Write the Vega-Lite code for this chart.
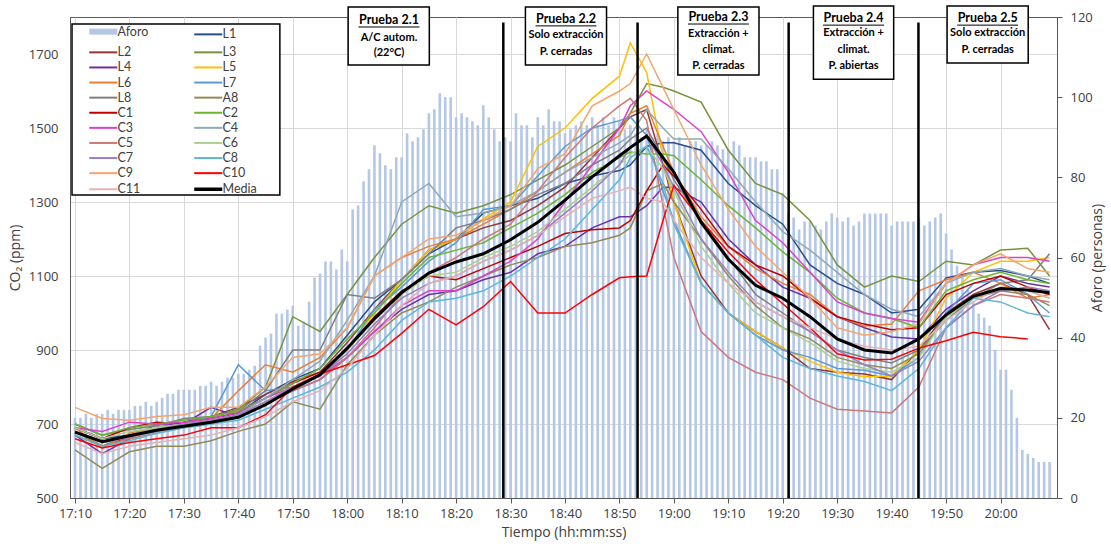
{
  "$schema": "https://vega.github.io/schema/vega-lite/v6.json",
  "width": 987,
  "height": 481,
  "autosize": {"type": "none"},
  "padding": {"left": 70, "top": 17, "right": 54, "bottom": 50},
  "background": "white",
  "config": {
    "view": {"stroke": "#595959", "strokeWidth": 1},
    "font": "Open Sans",
    "axis": {"labelFont": "Open Sans", "titleFont": "Open Sans", "labelColor": "#404040", "titleColor": "#404040", "labelFontSize": 13, "titleFontSize": 14, "titleFontWeight": "normal", "gridColor": "#D9D9D9", "domainColor": "#595959", "tickColor": "#595959"}
  },
  "layer": [
    {
      "data": {"values": [
        {"min":0,"aforo":20},{"min":1,"aforo":20},{"min":2,"aforo":21},{"min":3,"aforo":20},{"min":4,"aforo":21},{"min":5,"aforo":21},{"min":6,"aforo":22},{"min":7,"aforo":21},{"min":8,"aforo":22},{"min":9,"aforo":22},
        {"min":10,"aforo":22},{"min":11,"aforo":23},{"min":12,"aforo":23},{"min":13,"aforo":24},{"min":14,"aforo":23},{"min":15,"aforo":24},{"min":16,"aforo":25},{"min":17,"aforo":26},{"min":18,"aforo":26},{"min":19,"aforo":27},
        {"min":20,"aforo":27},{"min":21,"aforo":27},{"min":22,"aforo":27},{"min":23,"aforo":28},{"min":24,"aforo":28},{"min":25,"aforo":29},{"min":26,"aforo":28},{"min":27,"aforo":29},{"min":28,"aforo":30},{"min":29,"aforo":30},
        {"min":30,"aforo":31},{"min":31,"aforo":31},{"min":32,"aforo":32},{"min":33,"aforo":33},{"min":34,"aforo":38},{"min":35,"aforo":40},{"min":36,"aforo":41},{"min":37,"aforo":46},{"min":38,"aforo":46},{"min":39,"aforo":47},
        {"min":40,"aforo":48},{"min":41,"aforo":43},{"min":42,"aforo":44},{"min":43,"aforo":49},{"min":44,"aforo":55},{"min":45,"aforo":56},{"min":46,"aforo":59},{"min":47,"aforo":59},{"min":48,"aforo":57},{"min":49,"aforo":62},
        {"min":50,"aforo":59},{"min":51,"aforo":72},{"min":52,"aforo":73},{"min":53,"aforo":79},{"min":54,"aforo":82},{"min":55,"aforo":88},{"min":56,"aforo":86},{"min":57,"aforo":83},{"min":58,"aforo":82},{"min":59,"aforo":85},
        {"min":60,"aforo":85},{"min":61,"aforo":91},{"min":62,"aforo":89},{"min":63,"aforo":90},{"min":64,"aforo":92},{"min":65,"aforo":96},{"min":66,"aforo":97},{"min":67,"aforo":101},{"min":68,"aforo":100},{"min":69,"aforo":100},
        {"min":70,"aforo":95},{"min":71,"aforo":96},{"min":72,"aforo":95},{"min":73,"aforo":94},{"min":74,"aforo":93},{"min":75,"aforo":98},{"min":76,"aforo":95},{"min":77,"aforo":92},{"min":78,"aforo":89},{"min":79,"aforo":90},
        {"min":80,"aforo":89},{"min":81,"aforo":96},{"min":82,"aforo":93},{"min":83,"aforo":93},{"min":84,"aforo":90},{"min":85,"aforo":95},{"min":86,"aforo":93},{"min":87,"aforo":97},{"min":88,"aforo":94},{"min":89,"aforo":94},
        {"min":90,"aforo":91},{"min":91,"aforo":92},{"min":92,"aforo":93},{"min":93,"aforo":94},{"min":94,"aforo":93},{"min":95,"aforo":95},{"min":96,"aforo":93},{"min":97,"aforo":95},{"min":98,"aforo":93},{"min":99,"aforo":95},
        {"min":100,"aforo":94},{"min":101,"aforo":92},{"min":102,"aforo":93},{"min":103,"aforo":91},{"min":104,"aforo":90},{"min":105,"aforo":92},{"min":106,"aforo":90},{"min":107,"aforo":91},{"min":108,"aforo":89},{"min":109,"aforo":90},
        {"min":110,"aforo":89},{"min":111,"aforo":90},{"min":112,"aforo":88},{"min":113,"aforo":89},{"min":114,"aforo":89},{"min":115,"aforo":88},{"min":116,"aforo":88},{"min":117,"aforo":89},{"min":118,"aforo":88},{"min":119,"aforo":87},
        {"min":120,"aforo":87},{"min":121,"aforo":89},{"min":122,"aforo":88},{"min":123,"aforo":85},{"min":124,"aforo":85},{"min":125,"aforo":85},{"min":126,"aforo":84},{"min":127,"aforo":84},{"min":128,"aforo":82},{"min":129,"aforo":82},
        {"min":130,"aforo":76},{"min":131,"aforo":71},{"min":132,"aforo":70},{"min":133,"aforo":67},{"min":134,"aforo":69},{"min":135,"aforo":69},{"min":136,"aforo":68},{"min":137,"aforo":67},{"min":138,"aforo":69},{"min":139,"aforo":71},
        {"min":140,"aforo":70},{"min":141,"aforo":69},{"min":142,"aforo":70},{"min":143,"aforo":68},{"min":144,"aforo":69},{"min":145,"aforo":71},{"min":146,"aforo":71},{"min":147,"aforo":71},{"min":148,"aforo":71},{"min":149,"aforo":71},
        {"min":150,"aforo":68},{"min":151,"aforo":69},{"min":152,"aforo":69},{"min":153,"aforo":69},{"min":154,"aforo":69},{"min":155,"aforo":70},{"min":156,"aforo":68},{"min":157,"aforo":69},{"min":158,"aforo":70},{"min":159,"aforo":71},
        {"min":160,"aforo":66},{"min":161,"aforo":62},{"min":162,"aforo":58},{"min":163,"aforo":55},{"min":164,"aforo":52},{"min":165,"aforo":49},{"min":166,"aforo":46},{"min":167,"aforo":45},{"min":168,"aforo":43},{"min":169,"aforo":37},
        {"min":170,"aforo":32},{"min":171,"aforo":32},{"min":172,"aforo":27},{"min":173,"aforo":20},{"min":174,"aforo":12},{"min":175,"aforo":11},{"min":176,"aforo":10},{"min":177,"aforo":9},{"min":178,"aforo":9},{"min":179,"aforo":9}
      ]},
      "mark": {"type": "bar", "size": 2.6},
      "encoding": {
        "x": {"field": "min", "type": "quantitative",
              "scale": {"domain": [0, 179.45], "nice": false, "zero": false},
              "axis": {"values": [0,10,20,30,40,50,60,70,80,90,100,110,120,130,140,150,160,170], "labelExpr": "floor((1030 + datum.value) / 60) + ':' + ((1030 + datum.value) % 60 < 10 ? '0' : '') + ((1030 + datum.value) % 60)", "grid": true, "tickSize": 5, "labelPadding": 4, "labelFlush": false, "title": "Tiempo (hh:mm:ss)", "titlePadding": 5}},
        "y": {"field": "aforo", "type": "quantitative", "scale": {"domain": [0, 120], "nice": false},
              "axis": {"orient": "right", "values": [0,20,40,60,80,100,120], "grid": false, "tickSize": 5, "labelPadding": 8, "title": "Aforo (personas)", "titleAngle": 270, "titlePadding": 12}},
        "color": {"datum": "Aforo",
          "scale": {"domain": ["Aforo","L2","L4","L6","L8","C1","C3","C5","C7","C9","C11","L1","L3","L5","L7","A8","C2","C4","C6","C8","C10","Media"],
                    "range": ["#B4C7E7","#963634","#7030A0","#ED7D31","#7F7F7F","#C00000","#DD40CC","#CF7776","#9A7FC0","#F7A46B","#E6B2B0","#2B4C8C","#77933C","#FFC000","#5B9BD5","#948A54","#6CB52D","#8FA9B4","#ADD08E","#5DB7D6","#FF0000","#000000"]},
          "legend": {"orient": "none", "legendX": 27, "legendY": 8, "direction": "vertical", "columns": 2, "title": null, "symbolType": "stroke", "symbolSize": 784, "symbolStrokeWidth": 2, "labelFont": "Lato", "labelFontSize": 12.5, "labelColor": "#404040", "columnPadding": 38, "rowPadding": 2.1, "labelOffset": 8, "padding": 0,
            "encode": {"symbols": {"update": {"strokeWidth": {"signal": "datum.value === 'Aforo' ? 6 : datum.value === 'Media' ? 3.5 : 2"}}}}}}
      }
    },
    {
      "layer": [
        {
          "data": {"values": [
            {"min":0,"L1":690,"L2":680,"L3":680,"L4":670,"L5":680,"L6":690,"L7":680,"L8":700,"A8":630,"C1":690,"C2":700,"C3":690,"C4":680,"C5":670,"C6":690,"C7":680,"C8":670,"C9":745,"C10":660,"C11":650,"Media":678},
            {"min":5,"L1":660,"L2":640,"L3":640,"L4":620,"L5":650,"L6":635,"L7":650,"L8":670,"A8":580,"C1":660,"C2":670,"C3":680,"C4":650,"C5":640,"C6":660,"C7":650,"C8":640,"C9":715,"C10":635,"C11":620,"Media":652},
            {"min":10,"L1":670,"L2":665,"L3":670,"L4":660,"L5":665,"L6":675,"L7":665,"L8":685,"A8":625,"C1":690,"C2":690,"C3":705,"C4":670,"C5":660,"C6":680,"C7":665,"C8":655,"C9":710,"C10":650,"C11":640,"Media":668},
            {"min":15,"L1":690,"L2":690,"L3":690,"L4":700,"L5":680,"L6":690,"L7":680,"L8":695,"A8":640,"C1":705,"C2":700,"C3":700,"C4":690,"C5":675,"C6":690,"C7":685,"C8":675,"C9":720,"C10":660,"C11":650,"Media":683},
            {"min":20,"L1":700,"L2":705,"L3":700,"L4":700,"L5":695,"L6":700,"L7":700,"L8":715,"A8":640,"C1":700,"C2":710,"C3":705,"C4":700,"C5":690,"C6":700,"C7":700,"C8":690,"C9":725,"C10":670,"C11":660,"Media":694},
            {"min":25,"L1":710,"L2":720,"L3":720,"L4":745,"L5":705,"L6":715,"L7":720,"L8":720,"A8":655,"C1":715,"C2":720,"C3":715,"C4":710,"C5":700,"C6":710,"C7":710,"C8":700,"C9":745,"C10":690,"C11":670,"Media":705},
            {"min":30,"L1":730,"L2":745,"L3":740,"L4":720,"L5":720,"L6":790,"L7":860,"L8":735,"A8":680,"C1":730,"C2":735,"C3":730,"C4":725,"C5":720,"C6":725,"C7":725,"C8":710,"C9":745,"C10":690,"C11":690,"Media":718},
            {"min":35,"L1":780,"L2":780,"L3":800,"L4":755,"L5":760,"L6":860,"L7":790,"L8":790,"A8":700,"C1":770,"C2":770,"C3":770,"C4":770,"C5":760,"C6":760,"C7":760,"C8":740,"C9":800,"C10":725,"C11":720,"Media":752},
            {"min":40,"L1":820,"L2":815,"L3":990,"L4":790,"L5":800,"L6":840,"L7":800,"L8":900,"A8":760,"C1":810,"C2":810,"C3":800,"C4":820,"C5":790,"C6":800,"C7":800,"C8":770,"C9":880,"C10":800,"C11":760,"Media":795},
            {"min":45,"L1":850,"L2":840,"L3":950,"L4":820,"L5":830,"L6":880,"L7":830,"L8":900,"A8":740,"C1":840,"C2":850,"C3":830,"C4":870,"C5":820,"C6":830,"C7":830,"C8":800,"C9":890,"C10":835,"C11":790,"Media":833},
            {"min":50,"L1":940,"L2":920,"L3":1050,"L4":880,"L5":900,"L6":960,"L7":900,"L8":1050,"A8":860,"C1":900,"C2":930,"C3":880,"C4":980,"C5":880,"C6":900,"C7":890,"C8":840,"C9":960,"C10":860,"C11":850,"Media":905},
            {"min":55,"L1":1030,"L2":1010,"L3":1150,"L4":950,"L5":1000,"L6":1100,"L7":1010,"L8":1040,"A8":940,"C1":990,"C2":1000,"C3":950,"C4":1100,"C5":960,"C6":980,"C7":970,"C8":900,"C9":1100,"C10":885,"C11":940,"Media":985},
            {"min":60,"L1":1090,"L2":1090,"L3":1240,"L4":1010,"L5":1090,"L6":1150,"L7":1070,"L8":1090,"A8":1000,"C1":1060,"C2":1080,"C3":1020,"C4":1300,"C5":1050,"C6":1050,"C7":1040,"C8":980,"C9":1150,"C10":945,"C11":1020,"Media":1055},
            {"min":65,"L1":1160,"L2":1170,"L3":1290,"L4":1050,"L5":1170,"L6":1180,"L7":1140,"L8":1160,"A8":1030,"C1":1100,"C2":1150,"C3":1060,"C4":1350,"C5":1110,"C6":1100,"C7":1080,"C8":1030,"C9":1200,"C10":1010,"C11":1080,"Media":1108},
            {"min":70,"L1":1200,"L2":1200,"L3":1270,"L4":1060,"L5":1200,"L6":1200,"L7":1190,"L8":1230,"A8":1070,"C1":1090,"C2":1170,"C3":1060,"C4":1260,"C5":1150,"C6":1110,"C7":1100,"C8":1040,"C9":1210,"C10":968,"C11":1100,"Media":1138},
            {"min":75,"L1":1270,"L2":1230,"L3":1290,"L4":1090,"L5":1255,"L6":1240,"L7":1280,"L8":1250,"A8":1100,"C1":1120,"C2":1190,"C3":1100,"C4":1270,"C5":1200,"C6":1150,"C7":1140,"C8":1060,"C9":1250,"C10":1017,"C11":1140,"Media":1160},
            {"min":80,"L1":1290,"L2":1250,"L3":1320,"L4":1110,"L5":1300,"L6":1280,"L7":1290,"L8":1280,"A8":1130,"C1":1150,"C2":1230,"C3":1140,"C4":1290,"C5":1240,"C6":1180,"C7":1170,"C8":1100,"C9":1290,"C10":1085,"C11":1170,"Media":1198},
            {"min":85,"L1":1310,"L2":1290,"L3":1360,"L4":1160,"L5":1450,"L6":1330,"L7":1370,"L8":1320,"A8":1150,"C1":1180,"C2":1270,"C3":1200,"C4":1330,"C5":1330,"C6":1220,"C7":1210,"C8":1150,"C9":1390,"C10":1000,"C11":1210,"Media":1245},
            {"min":90,"L1":1350,"L2":1340,"L3":1400,"L4":1180,"L5":1500,"L6":1380,"L7":1450,"L8":1350,"A8":1180,"C1":1215,"C2":1320,"C3":1300,"C4":1380,"C5":1420,"C6":1280,"C7":1270,"C8":1200,"C9":1430,"C10":1000,"C11":1260,"Media":1305},
            {"min":95,"L1":1370,"L2":1420,"L3":1450,"L4":1230,"L5":1580,"L6":1430,"L7":1500,"L8":1400,"A8":1190,"C1":1225,"C2":1380,"C3":1400,"C4":1420,"C5":1500,"C6":1340,"C7":1330,"C8":1280,"C9":1560,"C10":1050,"C11":1310,"Media":1368},
            {"min":100,"L1":1385,"L2":1500,"L3":1500,"L4":1260,"L5":1640,"L6":1480,"L7":1520,"L8":1440,"A8":1210,"C1":1230,"C2":1420,"C3":1500,"C4":1460,"C5":1560,"C6":1400,"C7":1400,"C8":1360,"C9":1600,"C10":1095,"C11":1330,"Media":1425},
            {"min":102,"L1":1400,"L2":1530,"L3":1540,"L4":1260,"L5":1730,"L6":1540,"L7":1530,"L8":1470,"A8":1230,"C1":1250,"C2":1435,"C3":1560,"C4":1480,"C5":1580,"C6":1430,"C7":1450,"C8":1420,"C9":1620,"C10":1098,"C11":1340,"Media":1447},
            {"min":105,"L1":1450,"L2":1550,"L3":1620,"L4":1290,"L5":1650,"L6":1560,"L7":1480,"L8":1500,"A8":1330,"C1":1330,"C2":1430,"C3":1600,"C4":1550,"C5":1520,"C6":1450,"C7":1480,"C8":1450,"C9":1700,"C10":1100,"C11":1310,"Media":1478},
            {"min":108,"L1":1460,"L2":1400,"L3":1610,"L4":1340,"L5":1420,"L6":1450,"L7":1330,"L8":1420,"A8":1350,"C1":1400,"C2":1430,"C3":1570,"C4":1500,"C5":1290,"C6":1390,"C7":1400,"C8":1350,"C9":1610,"C10":1250,"C11":1300,"Media":1420},
            {"min":110,"L1":1460,"L2":1300,"L3":1600,"L4":1340,"L5":1300,"L6":1380,"L7":1250,"L8":1360,"A8":1300,"C1":1370,"C2":1425,"C3":1550,"C4":1470,"C5":1150,"C6":1330,"C7":1340,"C8":1240,"C9":1550,"C10":1345,"C11":1250,"Media":1380},
            {"min":115,"L1":1440,"L2":1100,"L3":1570,"L4":1300,"L5":1080,"L6":1260,"L7":1080,"L8":1250,"A8":1200,"C1":1280,"C2":1360,"C3":1490,"C4":1470,"C5":950,"C6":1180,"C7":1200,"C8":1080,"C9":1400,"C10":1250,"C11":1150,"Media":1245},
            {"min":120,"L1":1350,"L2":1000,"L3":1440,"L4":1200,"L5":1000,"L6":1180,"L7":1000,"L8":1150,"A8":1100,"C1":1180,"C2":1290,"C3":1380,"C4":1390,"C5":880,"C6":1080,"C7":1110,"C8":1000,"C9":1280,"C10":1165,"C11":1080,"Media":1145},
            {"min":125,"L1":1290,"L2":950,"L3":1350,"L4":1130,"L5":950,"L6":1120,"L7":940,"L8":1050,"A8":1020,"C1":1130,"C2":1230,"C3":1250,"C4":1300,"C5":840,"C6":1000,"C7":1030,"C8":940,"C9":1180,"C10":1090,"C11":1030,"Media":1075},
            {"min":130,"L1":1240,"L2":905,"L3":1320,"L4":1070,"L5":905,"L6":1080,"L7":900,"L8":1000,"A8":960,"C1":1100,"C2":1165,"C3":1190,"C4":1220,"C5":820,"C6":960,"C7":990,"C8":880,"C9":1110,"C10":1025,"C11":990,"Media":1040},
            {"min":135,"L1":1130,"L2":850,"L3":1250,"L4":1040,"L5":870,"L6":1050,"L7":880,"L8":950,"A8":930,"C1":1040,"C2":1110,"C3":1110,"C4":1170,"C5":770,"C6":920,"C7":950,"C8":850,"C9":1040,"C10":960,"C11":960,"Media":990},
            {"min":140,"L1":1080,"L2":840,"L3":1130,"L4":990,"L5":840,"L6":990,"L7":850,"L8":900,"A8":880,"C1":990,"C2":1040,"C3":1030,"C4":1110,"C5":740,"C6":870,"C7":900,"C8":830,"C9":960,"C10":890,"C11":930,"Media":930},
            {"min":145,"L1":1050,"L2":835,"L3":1070,"L4":960,"L5":828,"L6":965,"L7":845,"L8":880,"A8":860,"C1":970,"C2":1000,"C3":1000,"C4":1050,"C5":735,"C6":850,"C7":860,"C8":815,"C9":940,"C10":873,"C11":910,"Media":900},
            {"min":150,"L1":1000,"L2":820,"L3":1100,"L4":935,"L5":830,"L6":970,"L7":830,"L8":865,"A8":850,"C1":955,"C2":985,"C3":985,"C4":1010,"C5":730,"C6":840,"C7":830,"C8":790,"C9":950,"C10":875,"C11":900,"Media":892},
            {"min":155,"L1":1010,"L2":900,"L3":1085,"L4":930,"L5":900,"L6":1060,"L7":880,"L8":900,"A8":890,"C1":960,"C2":960,"C3":975,"C4":990,"C5":800,"C6":880,"C7":870,"C8":850,"C9":970,"C10":905,"C11":910,"Media":930},
            {"min":160,"L1":1095,"L2":1000,"L3":1140,"L4":1010,"L5":1040,"L6":1090,"L7":1000,"L8":980,"A8":990,"C1":1050,"C2":1060,"C3":1080,"C4":1080,"C5":960,"C6":990,"C7":960,"C8":960,"C9":1080,"C10":925,"C11":980,"Media":995},
            {"min":165,"L1":1110,"L2":1050,"L3":1130,"L4":1060,"L5":1110,"L6":1110,"L7":1080,"L8":1040,"A8":1040,"C1":1080,"C2":1090,"C3":1130,"C4":1110,"C5":1020,"C6":1040,"C7":1020,"C8":1040,"C9":1130,"C10":948,"C11":1030,"Media":1045},
            {"min":170,"L1":1115,"L2":1080,"L3":1170,"L4":1100,"L5":1140,"L6":1080,"L7":1090,"L8":1080,"A8":1060,"C1":1100,"C2":1110,"C3":1150,"C4":1120,"C5":1050,"C6":1070,"C7":1060,"C8":1030,"C9":1160,"C10":936,"C11":1070,"Media":1066},
            {"min":175,"L1":1100,"L2":1050,"L3":1175,"L4":1080,"L5":1140,"L6":1040,"L7":1050,"L8":1090,"A8":1050,"C1":1070,"C2":1090,"C3":1150,"C4":1100,"C5":1040,"C6":1060,"C7":1070,"C8":1000,"C9":1120,"C10":930,"C11":1060,"Media":1062},
            {"min":179,"L1":1080,"L2":955,"L3":1100,"L4":1070,"L5":1150,"L6":1050,"L7":1000,"L8":1160,"A8":1020,"C1":1050,"C2":1080,"C3":1140,"C4":1090,"C5":1030,"C6":1040,"C7":1060,"C8":990,"C9":1110,"C11":1040,"Media":1055}
          ]},
          "transform": [
            {"fold": ["L1","L2","L3","L4","L5","L6","L7","L8","A8","C1","C2","C3","C4","C5","C6","C7","C8","C9","C10","C11","Media"], "as": ["serie", "co2"]},
            {"filter": "isValid(datum.co2)"}
          ],
          "mark": {"type": "line"},
          "encoding": {
            "x": {"field": "min", "type": "quantitative", "scale": {"domain": [0, 179.45], "nice": false, "zero": false}},
            "y": {"field": "co2", "type": "quantitative", "scale": {"domain": [500, 1800], "nice": false},
                  "axis": {"values": [500,700,900,1100,1300,1500,1700], "format": "d", "grid": true, "ticks": false, "labelPadding": 12, "title": "CO₂ (ppm)", "titlePadding": 6}},
            "color": {"field": "serie", "type": "nominal", "legend": {"title": null}},
            "strokeWidth": {"condition": {"test": "datum.serie === 'Media'", "value": 3}, "value": 1.5}
          }
        },
        {
          "data": {"values": [
            {"min":78.67},{"min":103.33},{"min":131.08},{"min":154.92}
          ]},
          "mark": {"type": "rule", "strokeWidth": 2.5, "color": "#000000"},
          "encoding": {
            "x": {"field": "min", "type": "quantitative", "scale": {"domain": [0, 179.45], "nice": false, "zero": false}},
            "y": {"datum": 1785, "type": "quantitative", "scale": {"domain": [500, 1800], "nice": false}},
            "y2": {"datum": 500}
          }
        },
        {
          "data": {"values": [
            {"m1":-0.55,"m2":37.63,"co2":1781,"co2b":1319},
            {"m1":50.17,"m2":65.08,"co2":1827,"co2b":1670},
            {"m1":82.73,"m2":97.63,"co2":1827,"co2b":1670},
            {"m1":110.73,"m2":125.63,"co2":1827,"co2b":1643},
            {"m1":135.63,"m2":150.37,"co2":1830,"co2b":1632},
            {"m1":160.18,"m2":175.08,"co2":1830,"co2b":1676}
          ]},
          "mark": {"type": "rect", "fill": "#FFFFFF", "stroke": "#000000", "strokeWidth": 1.5},
          "encoding": {
            "x": {"field": "m1", "type": "quantitative", "scale": {"domain": [0, 179.45], "nice": false, "zero": false}},
            "x2": {"field": "m2"},
            "y": {"field": "co2", "type": "quantitative", "scale": {"domain": [500, 1800], "nice": false}},
            "y2": {"field": "co2b"}
          }
        },
        {
          "data": {"values": [
            {"m1":52.07,"m2":63.27,"co2":1773},
            {"m1":84.58,"m2":95.78,"co2":1776},
            {"m1":112.58,"m2":123.78,"co2":1781},
            {"m1":137.4,"m2":148.6,"co2":1778},
            {"m1":162.03,"m2":173.23,"co2":1778}
          ]},
          "mark": {"type": "rule", "strokeWidth": 1, "color": "#000000"},
          "encoding": {
            "x": {"field": "m1", "type": "quantitative", "scale": {"domain": [0, 179.45], "nice": false, "zero": false}},
            "x2": {"field": "m2"},
            "y": {"field": "co2", "type": "quantitative", "scale": {"domain": [500, 1800], "nice": false}}
          }
        },
        {
          "data": {"values": [
            {"min":57.67,"co2":1792,"txt":"Prueba 2.1"},
            {"min":90.18,"co2":1795,"txt":"Prueba 2.2"},
            {"min":118.18,"co2":1800,"txt":"Prueba 2.3"},
            {"min":143,"co2":1797,"txt":"Prueba 2.4"},
            {"min":167.63,"co2":1797,"txt":"Prueba 2.5"}
          ]},
          "mark": {"type": "text", "font": "Lato", "fontWeight": "bold", "fontSize": 12.5, "baseline": "middle", "align": "center", "color": "#000000"},
          "encoding": {
            "x": {"field": "min", "type": "quantitative", "scale": {"domain": [0, 179.45], "nice": false, "zero": false}},
            "y": {"field": "co2", "type": "quantitative", "scale": {"domain": [500, 1800], "nice": false}},
            "text": {"field": "txt"}
          }
        },
        {
          "data": {"values": [
            {"min":57.67,"co2":1743,"txt":"A/C autom."},
            {"min":57.67,"co2":1703,"txt":"(22°C)"},
            {"min":90.18,"co2":1751,"txt":"Solo extracción"},
            {"min":90.18,"co2":1705,"txt":"P. cerradas"},
            {"min":118.18,"co2":1754,"txt":"Extracción +"},
            {"min":118.18,"co2":1711,"txt":"climat."},
            {"min":118.18,"co2":1668,"txt":"P. cerradas"},
            {"min":143,"co2":1757,"txt":"Extracción +"},
            {"min":143,"co2":1711,"txt":"climat."},
            {"min":143,"co2":1668,"txt":"P. abiertas"},
            {"min":167.63,"co2":1757,"txt":"Solo extracción"},
            {"min":167.63,"co2":1711,"txt":"P. cerradas"}
          ]},
          "mark": {"type": "text", "font": "Lato", "fontWeight": "bold", "fontSize": 11, "baseline": "middle", "align": "center", "color": "#000000"},
          "encoding": {
            "x": {"field": "min", "type": "quantitative", "scale": {"domain": [0, 179.45], "nice": false, "zero": false}},
            "y": {"field": "co2", "type": "quantitative", "scale": {"domain": [500, 1800], "nice": false}},
            "text": {"field": "txt"}
          }
        }
      ]
    }
  ],
  "resolve": {"scale": {"y": "independent"}}
}
